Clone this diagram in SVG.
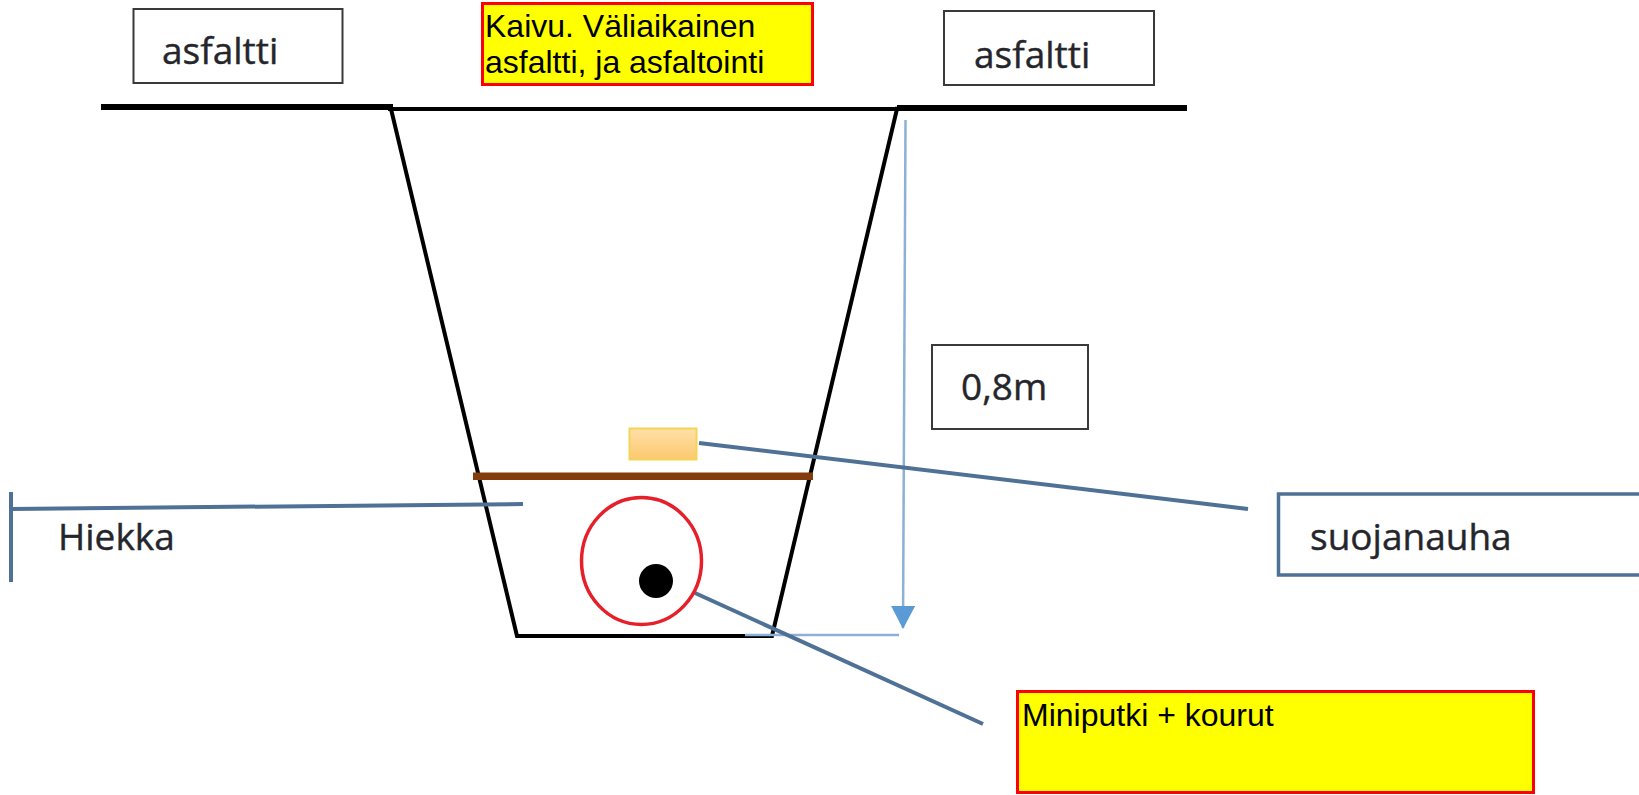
<svg xmlns="http://www.w3.org/2000/svg" width="1639" height="795" viewBox="0 0 1639 795">
<style>
.box{fill:#fff;stroke:#3a3a3a;stroke-width:2}
.note{fill:#ff0;stroke:#f00;stroke-width:3}
.pic{font-family:"Open Sans","Noto Sans","Liberation Sans",sans-serif;font-size:37px;fill:#25262b;font-variant-ligatures:none;stroke:#25262b;stroke-width:.4}
.lab{font-family:"Liberation Sans",Arial,sans-serif;font-size:32px;fill:#000}
.bk{stroke:#000;fill:none;stroke-linecap:square}
.lead{stroke:#4f7196;stroke-width:4;fill:none}
.dim{stroke:#8fb0d6;stroke-width:2.500;fill:none}
</style>
<defs>
<marker id="ah" markerUnits="userSpaceOnUse" markerWidth="26" markerHeight="24" refX="22" refY="12" orient="auto"><path d="M0 0L23 12L0 24Z" fill="#5b9bd5"/></marker>
<linearGradient id="tapefill" x1="0" y1="0" x2="0" y2="1"><stop offset="0" stop-color="#ffe0a8"/><stop offset="1" stop-color="#fcc96e"/></linearGradient>
</defs>
<g id="trench">
<path class="bk" stroke-width="6" d="M104 107H390M900 108H1184"/>
<path class="bk" stroke-width="4" d="M390 109H898"/>
<path class="bk" stroke-width="4" d="M391 109L517 636H772L897 109"/>
</g>
<g id="connectors">
<path class="dim" d="M905.500 120L903 628" marker-end="url(#ah)"/>
<path class="dim" d="M745 635H899"/>
<path class="lead" d="M699 443L1248 509"/>
<path class="lead" d="M695 593L983 724"/>
<path class="lead" d="M11 509L523 504"/>
<path class="lead" d="M11 492V582"/>
</g>
<g id="sand-layer"><rect x="473" y="472.500" width="340" height="7.500" fill="#843c0c"/></g>
<g id="tape"><rect x="629.500" y="428.500" width="67" height="31" fill="url(#tapefill)" stroke="#f4d35a" stroke-width="2"/></g>
<g id="duct"><ellipse cx="641.500" cy="561" rx="60" ry="63.500" fill="none" stroke="#e5202a" stroke-width="3.500"/></g>
<g id="microduct"><circle cx="656" cy="581" r="17" fill="#000"/></g>
<g id="asfaltti-left"><rect class="box" x="133.500" y="9" width="209" height="74"/><text class="pic" x="162" y="64">asfaltti</text></g>
<g id="asfaltti-right"><rect class="box" x="944" y="11" width="210" height="74"/><text class="pic" x="974" y="68">asfaltti</text></g>
<g id="kaivu"><rect class="note" x="482.500" y="3.500" width="330" height="81"/><text class="lab" x="485" y="37">Kaivu. Väliaikainen</text><text class="lab" x="485" y="73">asfaltti, ja asfaltointi</text></g>
<g id="depth"><rect class="box" x="932" y="345" width="156" height="84"/><text class="pic" x="961" y="400">0,8m</text></g>
<g id="hiekka"><text class="pic" x="58" y="550">Hiekka</text></g>
<g id="suojanauha"><path d="M1639 494H1278.500V575H1639" fill="#fff" stroke="#4f7196" stroke-width="3.500"/><text class="pic" x="1310" y="550">suojanauha</text></g>
<g id="miniputki"><rect class="note" x="1017.500" y="691.500" width="516" height="101"/><text class="lab" x="1022" y="726">Miniputki + kourut</text></g>
</svg>
